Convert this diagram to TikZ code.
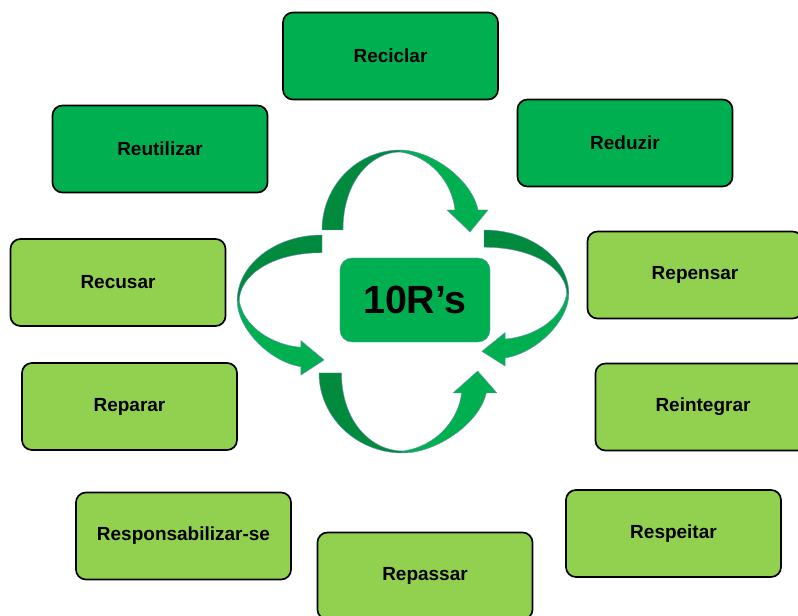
\documentclass[tikz,border=0pt]{standalone}
\usepackage{fontspec}
\setmainfont{Liberation Sans}
\usetikzlibrary{positioning}

\definecolor{verdeescuro}{HTML}{00B050}
\definecolor{verdeclaro}{HTML}{92D050}
\definecolor{sombra}{HTML}{008A3E}
\definecolor{contorno}{HTML}{6F8FAF}

\newcommand{\setaciclo}{%
    \fill[sombra, draw=contorno, line width=0.3pt] (0,0) .. controls (0,44) and (35,80) .. (78,80) -- (78,78) .. controls (50,78) and (21,50) .. (21,0) -- cycle;
    \fill[verdeescuro, draw=contorno, line width=0.3pt] (78,80) .. controls (110,80) and (150,50) .. (156,20) -- (166,20) -- (148,-2) -- (125,20) -- (133,20) .. controls (130,48) and (108,74) .. (78,78) -- cycle;
}

\begin{document}
\begin{tikzpicture}[x=0.025cm, y=-0.025cm,
    rbox/.style={draw=black, line width=1.2pt, rounded corners=0.25cm, minimum width=5.375cm, minimum height=2.175cm, font=\fontsize{13.5}{16}\selectfont\bfseries},
    escuro/.style={rbox, fill=verdeescuro},
    claro/.style={rbox, fill=verdeclaro}]
    \useasboundingbox (0,0) rectangle (798,616);
    \clip (0,0) rectangle (798,616);

    \node[escuro] (reciclar) at (390.5,56) {Reciclar};
    \node[escuro] (reduzir) at (625,143) {Reduzir};
    \node[escuro] (reutilizar) at (160,149) {Reutilizar};
    \node[claro] (recusar) at (118,282.5) {Recusar};
    \node[claro] (repensar) at (695,275) {Repensar};
    \node[claro] (reparar) at (129.5,406.5) {Reparar};
    \node[claro] (reintegrar) at (703,407) {Reintegrar};
    \node[claro] (responsabilizar) at (183.5,536) {Responsabilizar-se};
    \node[claro] (respeitar) at (673.5,533.5) {Respeitar};
    \node[claro] (repassar) at (425,576) {Repassar};

    \begin{scope}[shift={(322,230)}, x={(0.025cm,0cm)}, y={(0cm,0.025cm)}]
        \setaciclo
    \end{scope}
    \begin{scope}[shift={(319,373)}, x={(0.0268cm,0cm)}, y={(0cm,-0.025cm)}]
        \setaciclo
    \end{scope}
    \begin{scope}[shift={(322,235)}, x={(0cm,-0.0211cm)}, y={(-0.0265cm,0cm)}]
        \setaciclo
    \end{scope}
    \begin{scope}[shift={(484,230)}, x={(0cm,-0.0205cm)}, y={(0.0265cm,0cm)}]
        \setaciclo
    \end{scope}

    \node[fill=verdeescuro, draw=contorno, line width=0.3pt, rounded corners=0.3cm, minimum width=3.75cm, minimum height=2.1cm, font=\fontsize{28}{30}\selectfont\bfseries] (centro) at (415,300) {10R’s};
\end{tikzpicture}
\end{document}
